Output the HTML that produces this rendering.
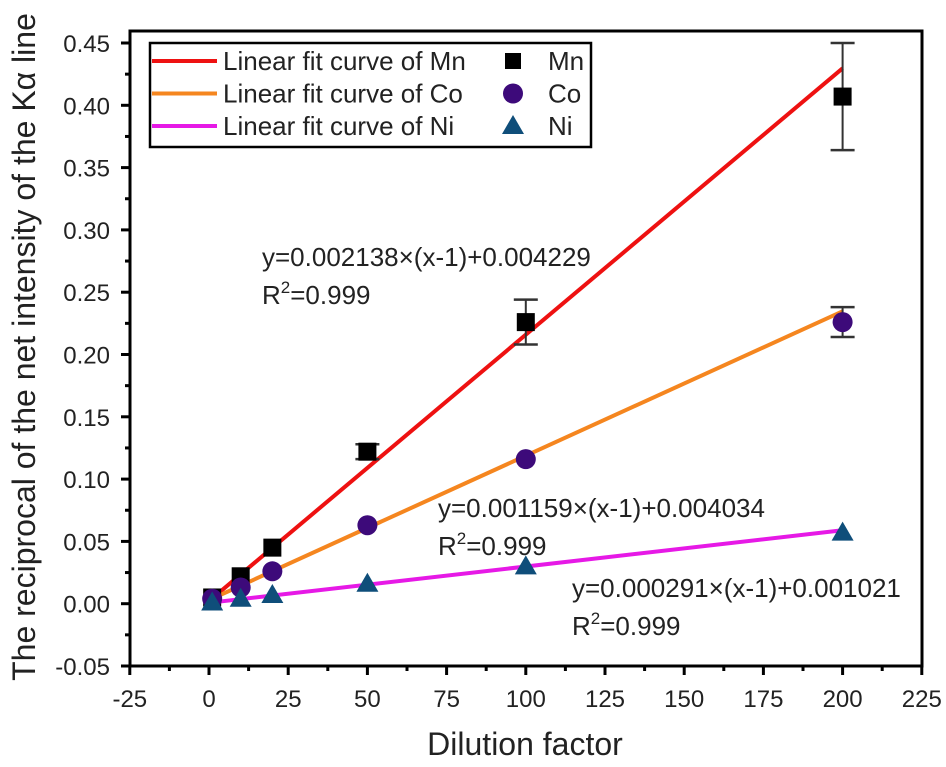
<!DOCTYPE html>
<html><head><meta charset="utf-8">
<style>
html,body{margin:0;padding:0;background:#fff;}
svg{display:block;font-family:"Liberation Sans",Arial,sans-serif;}
</style></head>
<body>
<svg id="chart" width="946" height="767" xmlns="http://www.w3.org/2000/svg">
<g id="axes"></g>
<g id="marks"></g>
<g id="legend"></g>
</svg>
<script>
const xCats = [1, 10, 20, 50, 100, 200];
const mnValues = [0.005, 0.022, 0.045, 0.122, 0.226, 0.407];
const mnErr = [0.002, 0.003, 0.003, 0.006, 0.018, 0.043];
const coValues = [0.004, 0.013, 0.026, 0.063, 0.116, 0.226];
const coErr = [0.001, 0.002, 0.002, 0.002, 0.003, 0.012];
const niValues = [0.001, 0.004, 0.007, 0.016, 0.030, 0.057];
const fitSlopes = [0.002138, 0.001159, 0.000291];
const fitIntercepts = [0.004229, 0.004034, 0.001021];
const xTicks = [-25, 0, 25, 50, 75, 100, 125, 150, 175, 200, 225];
const yTicks = [-0.05, 0, 0.05, 0.10, 0.15, 0.20, 0.25, 0.30, 0.35, 0.40, 0.45];

const NS = "http://www.w3.org/2000/svg";
const L = 130, R = 922, T = 31, B = 666;
const X = v => 209 + (v) * 3.168;
const Y = v => 603.7 - v * 1246;
function mk(tag, attrs, parent, text) {
  const e = document.createElementNS(NS, tag);
  for (const k in attrs) e.setAttribute(k, attrs[k]);
  if (text !== undefined) e.textContent = text;
  parent.appendChild(e);
  return e;
}
const axes = document.getElementById('axes');
const marks = document.getElementById('marks');
const legend = document.getElementById('legend');

let frame = mk('rect', {x: L, y: T, width: R - L, height: B - T, fill: 'none', stroke: '#000', 'stroke-width': 3}, axes);



xTicks.forEach((t, i) => {
  const x = X(t);
  let tk = mk('line', {x1: x, x2: x, y1: B, y2: B + 9, stroke: '#000', 'stroke-width': 3}, axes);
  
  
  if (i < xTicks.length - 1) {
    const xm = X(t + 12.5);
    mk('line', {x1: xm, x2: xm, y1: B, y2: B + 5, stroke: '#000', 'stroke-width': 3}, axes);
  }
  let lb = mk('text', {x: x, y: 707, 'font-size': 24, 'text-anchor': 'middle', fill: '#222'}, axes, String(t));
  
  
});
yTicks.forEach((t, i) => {
  const y = Y(t);
  let tk = mk('line', {x1: L - 9, x2: L, y1: y, y2: y, stroke: '#000', 'stroke-width': 3}, axes);
  
  
  if (i < yTicks.length - 1) {
    const ym = Y(t + 0.025);
    mk('line', {x1: L - 5, x2: L, y1: ym, y2: ym, stroke: '#000', 'stroke-width': 3}, axes);
  }
  let lb = mk('text', {x: L - 20, y: y + 9, 'font-size': 24, 'text-anchor': 'end', fill: '#222'}, axes, t.toFixed(2));
  
  
});
let xt = mk('text', {x: 525, y: 755, 'font-size': 32, 'text-anchor': 'middle', fill: '#222'}, axes, 'Dilution factor');


let yt = mk('text', {x: 0, y: 0, 'font-size': 32, 'text-anchor': 'middle', fill: '#222', transform: 'translate(35,347) rotate(-90)'}, axes, 'The reciprocal of the net intensity of the Kα line');



const colors = ['#ee1111', '#f5861f', '#e619e6'];
const fitNames = ['fit-line-mn', 'fit-line-co', 'fit-line-ni'];
fitSlopes.forEach((s, i) => {
  const f = x => s * (x - 1) + fitIntercepts[i];
  let ln = mk('line', {x1: X(1), y1: Y(f(1)), x2: X(200), y2: Y(f(200)), stroke: colors[i], 'stroke-width': 4}, marks);
  
  
});

function errbar(x, v, e) {
  if (e < 0.004) return;
  const px = X(x);
  mk('line', {x1: px, x2: px, y1: Y(v + e), y2: Y(v - e), stroke: '#333', 'stroke-width': 2}, marks);
  mk('line', {x1: px - 12, x2: px + 12, y1: Y(v + e), y2: Y(v + e), stroke: '#333', 'stroke-width': 2.5}, marks);
  mk('line', {x1: px - 12, x2: px + 12, y1: Y(v - e), y2: Y(v - e), stroke: '#333', 'stroke-width': 2.5}, marks);
}
xCats.forEach((x, i) => {
  errbar(x, mnValues[i], mnErr[i]);
  errbar(x, coValues[i], coErr[i]);
  let sq = mk('rect', {x: X(x) - 9, y: Y(mnValues[i]) - 9, width: 18, height: 18, fill: '#000'}, marks);
  
  
  let c = mk('circle', {cx: X(x), cy: Y(coValues[i]), r: 10, fill: '#3d0a7a'}, marks);
  
  
  const px = X(x), py = Y(niValues[i]);
  let tr = mk('polygon', {points: `${px},${py - 11} ${px - 11},${py + 8} ${px + 11},${py + 8}`, fill: '#0f4e7a'}, marks);
  
  
});

function annot(x, y, eq, name) {
  let a = mk('text', {x: x, y: y, 'font-size': 26, fill: '#222'}, marks, eq);
  
  
  let r = mk('text', {x: x, y: y + 38, 'font-size': 26, fill: '#222'}, marks);
  
  
  mk('tspan', {}, r, 'R');
  mk('tspan', {dy: -11, 'font-size': 17}, r, '2');
  mk('tspan', {dy: 11}, r, '=0.999');
}
annot(262, 266, 'y=0.002138×(x-1)+0.004229', 'mn');
annot(438, 517, 'y=0.001159×(x-1)+0.004034', 'co');
annot(572, 597, 'y=0.000291×(x-1)+0.001021', 'ni');

let lg = mk('rect', {x: 150, y: 43, width: 441, height: 104, fill: '#fff', stroke: '#000', 'stroke-width': 2.5}, legend);


const legNames = ['Mn', 'Co', 'Ni'];
legNames.forEach((n, i) => {
  const y = 61 + i * 32.5;
  let ln = mk('line', {x1: 152, x2: 217, y1: y, y2: y, stroke: colors[i], 'stroke-width': 4}, legend);
  
  
  let t = mk('text', {x: 223, y: y + 9, 'font-size': 26, fill: '#222'}, legend, 'Linear fit curve of ' + n);
  
  
  let m;
  if (i === 0) m = mk('rect', {x: 505, y: y - 8, width: 16, height: 16, fill: '#000'}, legend);
  else if (i === 1) m = mk('circle', {cx: 513, cy: y, r: 10, fill: '#3d0a7a'}, legend);
  else m = mk('polygon', {points: `513,${y - 11} 502,${y + 8} 524,${y + 8}`, fill: '#0f4e7a'}, legend);
  
  
  let t2 = mk('text', {x: 548, y: y + 9, 'font-size': 26, fill: '#222'}, legend, n);
  
  
});
</script>
</body></html>
